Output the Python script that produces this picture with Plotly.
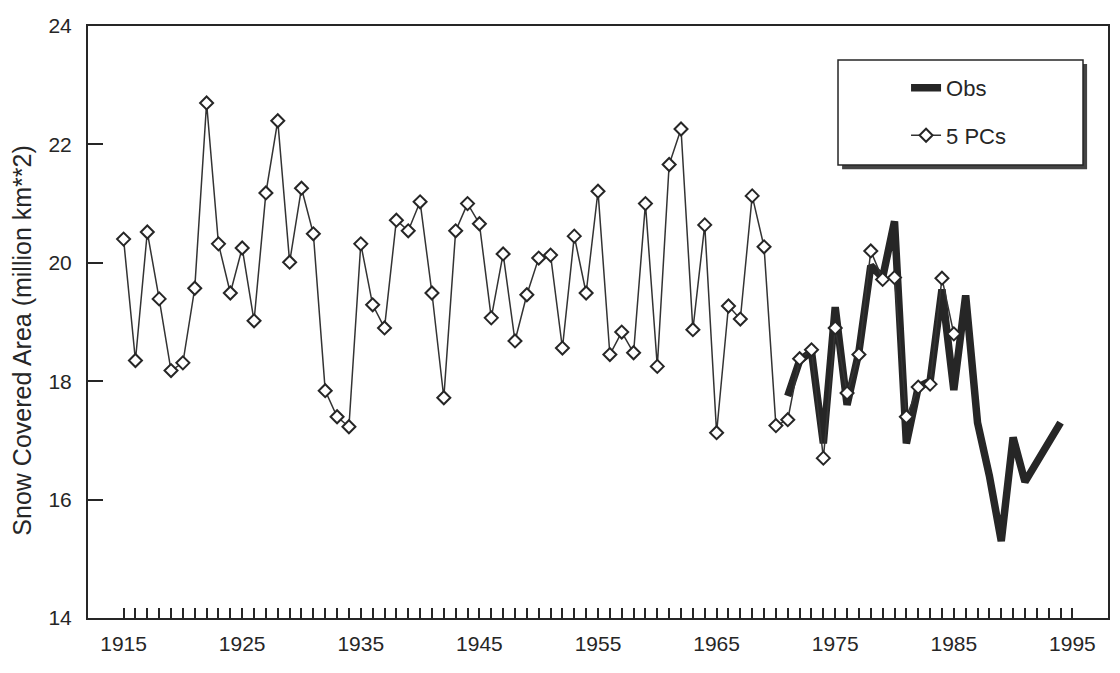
import plotly.graph_objects as go

# 5 PCs reconstruction
years_pcs = list(range(1915, 1986))
pcs = [20.40, 18.35, 20.52, 19.39, 18.18, 18.31, 19.57, 22.70, 20.32, 19.49,
       20.25, 19.02, 21.18, 22.40, 20.01, 21.26, 20.49, 17.84, 17.40, 17.23,
       20.32, 19.29, 18.90, 20.72, 20.54, 21.03, 19.49, 17.72, 20.54, 21.00,
       20.66, 19.07, 20.15, 18.68, 19.46, 20.08, 20.13, 18.56, 20.45, 19.49,
       21.21, 18.45, 18.83, 18.48, 21.00, 18.25, 21.66, 22.26, 18.87, 20.64,
       17.13, 19.27, 19.05, 21.13, 20.27, 17.25, 17.35, 18.38, 18.53, 16.70,
       18.90, 17.80, 18.45, 20.20, 19.72, 19.75, 17.40, 17.90, 17.95, 19.74,
       18.80]

# observed
years_obs = list(range(1971, 1995))
obs = [17.75, 18.35, 18.50, 16.95, 19.25, 17.60, 18.50, 19.95, 19.75, 20.70,
       16.95, 17.90, 18.00, 19.55, 17.85, 19.45, 17.30, 16.40, 15.30, 17.05,
       16.30, 16.65, 16.95, 17.30]

x_ticks = list(range(1915, 1996))
x_labels = [str(y) if (y - 1915) % 10 == 0 else '' for y in x_ticks]
y_ticks = [14, 16, 18, 20, 22, 24]

ink = '#262626'
font = 'Liberation Sans, Arial, sans-serif'

fig = go.Figure()
fig.add_trace(go.Scatter(
    x=years_obs, y=obs, mode='lines', name='Obs',
    line=dict(color=ink, width=7.5),
    legendgroup='obs'
))
fig.add_trace(go.Scatter(
    x=years_pcs, y=pcs, mode='lines+markers', name='5 PCs',
    line=dict(color='#333333', width=1.5),
    marker=dict(symbol='diamond', size=10, color='white',
                line=dict(color=ink, width=2)),
    legendgroup='pcs'
))

# legend box + drop shadow (paper coords)
bx0, bx1, by0, by1 = 0.7353, 0.9755, 0.7652, 0.9426
fig.add_shape(type='rect', xref='paper', yref='paper',
              x0=bx0 + 0.004, x1=bx1 + 0.004, y0=by0 - 0.007, y1=by1 - 0.007,
              fillcolor='#444444', line=dict(width=0), layer='below')
fig.add_shape(type='rect', xref='paper', yref='paper',
              x0=bx0, x1=bx1, y0=by0, y1=by1,
              fillcolor='white', line=dict(color=ink, width=1.5), layer='below')

# y axis title as a rotated annotation so it can sit where the original has it
fig.add_annotation(text='Snow Covered Area (million km**2)',
                   xref='paper', yref='paper', x=-0.0650, y=0.468,
                   xanchor='center', yanchor='middle', textangle=-90,
                   showarrow=False, font=dict(size=25, color=ink))

# the page body adds an 8px margin, so the figure is 8px smaller on each side
fig.update_layout(
    width=1112, height=665,
    margin=dict(l=80, r=12, t=18, b=55, autoexpand=False),
    paper_bgcolor='white', plot_bgcolor='white',
    font=dict(family=font, color=ink),
    showlegend=True,
    legend=dict(x=0.802, y=0.931, xanchor='left', yanchor='top',
                bgcolor='rgba(0,0,0,0)', borderwidth=0,
                font=dict(size=22, color=ink), tracegroupgap=16,
                itemwidth=30),
    xaxis=dict(range=[1912, 1998], tickvals=x_ticks, ticktext=x_labels,
               ticks='inside', ticklen=10, tickwidth=1.5, tickcolor=ink,
               showline=True, linecolor=ink, linewidth=2, mirror=True,
               showgrid=False, zeroline=False, automargin=False,
               tickfont=dict(size=21, color=ink), ticklabelstandoff=6),
    yaxis=dict(range=[14, 24], tickvals=y_ticks,
               ticks='inside', ticklen=15, tickwidth=2, tickcolor=ink,
               showline=True, linecolor=ink, linewidth=2, mirror=True,
               showgrid=False, zeroline=False, automargin=False,
               tickfont=dict(size=21, color=ink), ticklabelstandoff=10),
)

fig.write_html('out.html')
